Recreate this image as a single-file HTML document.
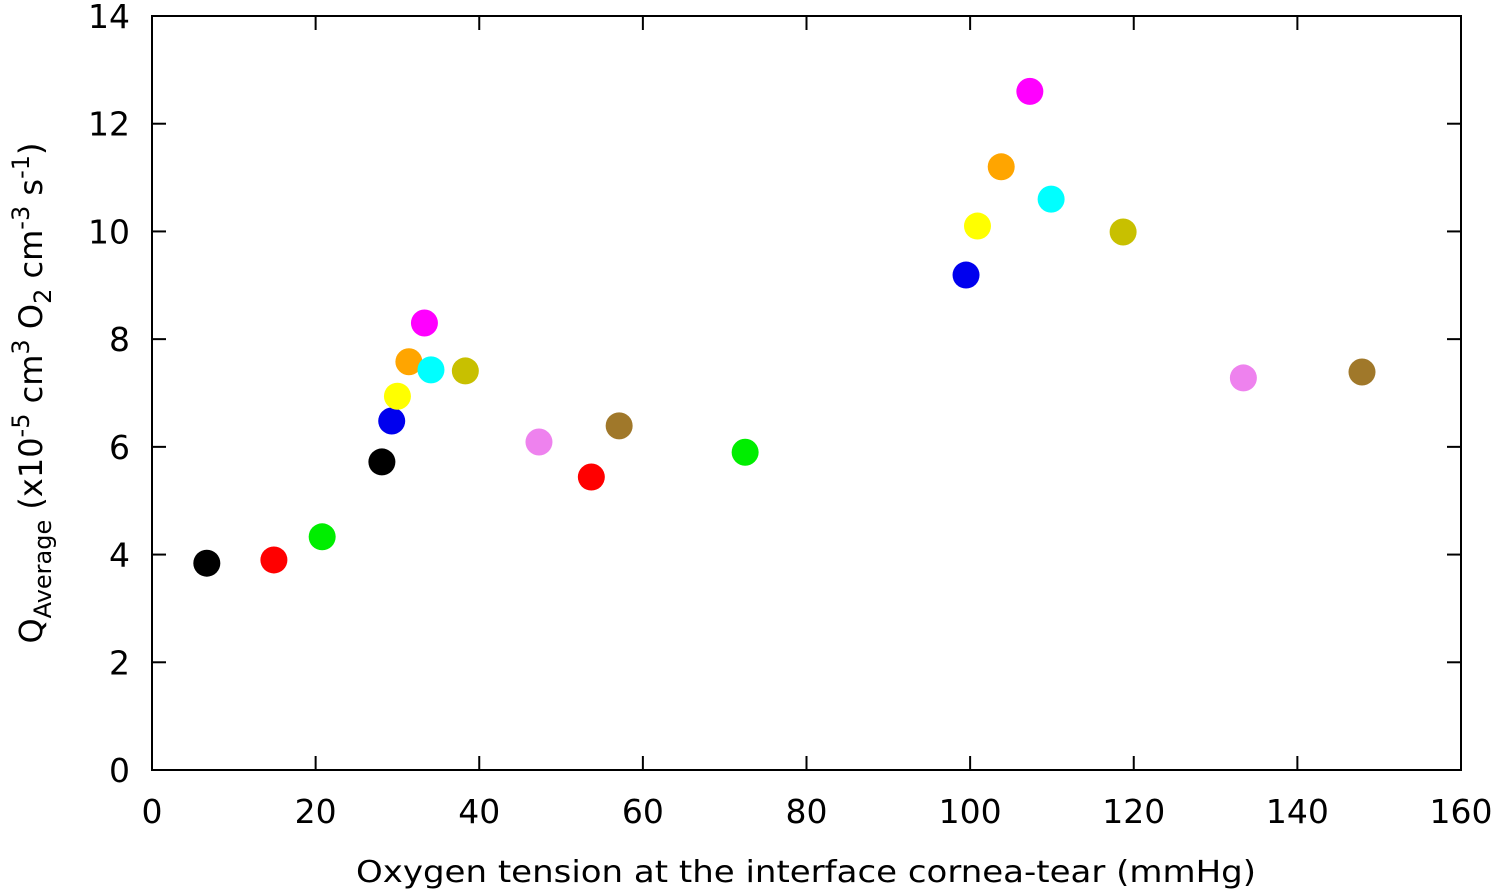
<!DOCTYPE html>
<html><head><meta charset="utf-8"><style>
html,body{margin:0;padding:0;background:#fff;}
svg{display:block;font-family:"DejaVu Sans","Liberation Sans",sans-serif;}
</style></head><body>
<svg id="chart" width="1500" height="892" viewBox="0 0 1500 892">
<g id="ticks"></g>
<g id="marks"></g>
<rect x="152" y="16" width="1309" height="754" fill="none" stroke="#000" stroke-width="2"/>
<text x="806" y="882" font-size="30" text-anchor="middle" textLength="900" lengthAdjust="spacingAndGlyphs">Oxygen tension at the interface cornea-tear (mmHg)</text>
<text transform="translate(42,393) rotate(-90)" font-size="32" text-anchor="middle">Q<tspan font-size="24" dy="9">Average</tspan><tspan dy="-9"> (x10</tspan><tspan font-size="24" dy="-13">-5</tspan><tspan dy="13"> cm</tspan><tspan font-size="24" dy="-13">3</tspan><tspan dy="13"> O</tspan><tspan font-size="24" dy="9">2</tspan><tspan dy="-9"> cm</tspan><tspan font-size="24" dy="-13">-3</tspan><tspan dy="13"> s</tspan><tspan font-size="24" dy="-13">-1</tspan><tspan dy="13">)</tspan></text>
</svg>
<script>
const xTicks=[0,20,40,60,80,100,120,140,160];
const yTicks=[0,2,4,6,8,10,12,14];
const xVals=[6.7,14.9,20.8,28.1,29.3,30.0,31.4,33.3,34.1,38.3,47.3,53.7,57.1,72.5,99.5,100.9,103.8,107.3,109.9,118.7,133.4,147.9];
const yVals=[3.84,3.9,4.33,5.72,6.48,6.94,7.58,8.3,7.43,7.41,6.09,5.44,6.39,5.9,9.19,10.1,11.2,12.6,10.6,9.99,7.28,7.39];
const colors=["#000000","#ff0000","#00ee00","#000000","#0000ee","#ffff00","#ffa500","#ff00ff","#00ffff","#c8c000","#ee82ee","#ff0000","#a0782a","#00ee00","#0000ee","#ffff00","#ffa500","#ff00ff","#00ffff","#c8c000","#ee82ee","#a0782a"];
const L=152,R=1461,T=16,B=770;
const sx=v=>L+(v-0)/(160-0)*(R-L);
const sy=v=>B-(v-0)/(14-0)*(B-T);
const NS="http://www.w3.org/2000/svg";
const tg=document.getElementById('ticks'),mg=document.getElementById('marks');
function mk(tag,attrs,parent){const e=document.createElementNS(NS,tag);for(const k in attrs)e.setAttribute(k,attrs[k]);parent.appendChild(e);return e;}
xTicks.forEach(t=>{
 const x=sx(t);
 const l1=mk('line',{x1:x,x2:x,y1:B,y2:B-14,stroke:'#000','stroke-width':2},tg);
 
 
 const l2=mk('line',{x1:x,x2:x,y1:T,y2:T+14,stroke:'#000','stroke-width':2},tg);
 
 
 const tx=mk('text',{x:x,y:823,'font-size':33,'text-anchor':'middle'},tg);
 tx.textContent=t;
 
 
});
yTicks.forEach(t=>{
 const y=sy(t);
 const l1=mk('line',{x1:L,x2:L+14,y1:y,y2:y,stroke:'#000','stroke-width':2},tg);
 
 
 const l2=mk('line',{x1:R,x2:R-14,y1:y,y2:y,stroke:'#000','stroke-width':2},tg);
 
 
 const tx=mk('text',{x:130,y:y+12,'font-size':33,'text-anchor':'end'},tg);
 tx.textContent=t;
 
 
});
xVals.forEach((v,i)=>{
 const c=mk('circle',{cx:sx(v),cy:sy(yVals[i]),r:13.5,fill:colors[i]},mg);
 
 
});
</script>
</body></html>
